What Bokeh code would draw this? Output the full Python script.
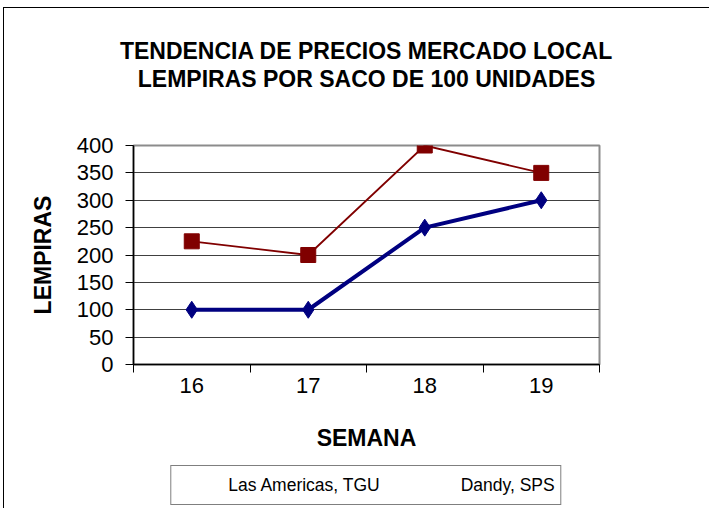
from bokeh.plotting import figure
from bokeh.layouts import column
from bokeh.models import Range1d, FixedTicker, Legend, LegendItem, Title
from bokeh.embed import file_html
from bokeh.resources import INLINE

weeks = ["16", "17", "18", "19"]
las_americas = [100, 100, 250, 300]
dandy = [225, 200, 400, 350]
y_ticks = [0, 50, 100, 150, 200, 250, 300, 350, 400]
title_lines = ["TENDENCIA DE PRECIOS MERCADO LOCAL", "LEMPIRAS POR SACO DE 100 UNIDADES"]
series_names = ["Las Americas, TGU", "Dandy, SPS"]

FONT = "Liberation Sans"
NAVY = "#000080"
MAROON = "#800000"

# category slots: centre of slot i is i + 0.5, slot edges are integers
x_pos = [i + 0.5 for i in range(len(weeks))]
x_edges = list(range(len(weeks) + 1))

p = figure(x_range=Range1d(0, len(weeks)), y_range=Range1d(0, 400),
           frame_width=466, frame_height=219, output_backend="svg", toolbar_location=None,
           title=None,
           min_border_left=129, min_border_right=110, min_border_top=137, min_border_bottom=98)

p.background_fill_color = "white"
p.border_fill_color = "white"
p.outline_line_color = "#8c8c8c"
p.outline_line_width = 2

# y axis
ya = p.yaxis[0]
ya.ticker = FixedTicker(ticks=y_ticks, minor_ticks=[])
ya.major_tick_in = 0
ya.major_tick_out = 8
ya.minor_tick_out = 0
ya.minor_tick_in = 0
ya.axis_line_color = "black"
ya.axis_line_width = 1.5
ya.major_tick_line_color = "black"
ya.major_label_text_font = FONT
ya.major_label_text_font_size = "22px"
ya.major_label_text_color = "black"
ya.major_label_standoff = 12
ya.axis_label = "LEMPIRAS"
ya.axis_label_text_font = FONT
ya.axis_label_text_font_size = "23px"
ya.axis_label_text_font_style = "bold"
ya.axis_label_text_color = "black"
ya.axis_label_standoff = 18

# x axis: labels at slot centres, tick marks at slot edges
xa = p.xaxis[0]
xa.ticker = FixedTicker(ticks=x_pos, minor_ticks=x_edges)
xa.major_label_overrides = {x: w for x, w in zip(x_pos, weeks)}
xa.major_tick_in = 0
xa.major_tick_out = 0
xa.minor_tick_in = 0
xa.minor_tick_out = 8
xa.minor_tick_line_color = "black"
xa.minor_tick_line_width = 1
xa.axis_line_color = "black"
xa.axis_line_width = 1.5
xa.major_label_text_font = FONT
xa.major_label_text_font_size = "22px"
xa.major_label_text_color = "black"
xa.major_label_standoff = 5
xa.axis_label = "SEMANA"
xa.axis_label_text_font = FONT
xa.axis_label_text_font_size = "23px"
xa.axis_label_text_font_style = "bold"
xa.axis_label_text_color = "black"
xa.axis_label_standoff = 29

p.ygrid.ticker = FixedTicker(ticks=y_ticks, minor_ticks=[])
p.ygrid.grid_line_color = "#404040"
p.ygrid.grid_line_width = 1
p.xgrid.visible = False

# series
p.line(x_pos, las_americas, line_color=NAVY, line_width=4)
p.scatter(x_pos, las_americas, marker="diamond", size=17, fill_color=NAVY, line_color=NAVY)
p.line(x_pos, dandy, line_color=MAROON, line_width=1.8)
p.scatter(x_pos, dandy, marker="square", size=15, fill_color=MAROON, line_color=MAROON)

# titles: the first one added sits nearest the plot area (a blank spacer)
p.add_layout(Title(text=" ", text_font=FONT, text_font_size="10px", standoff=41), "above")
p.add_layout(Title(text=title_lines[1], align="center", text_font=FONT, text_font_size="23px",
                   text_font_style="bold", text_color="black", standoff=0), "above")
p.add_layout(Title(text=title_lines[0], align="center", text_font=FONT, text_font_size="23px",
                   text_font_style="bold", text_color="black", standoff=0), "above")

# legend strip below the chart (same horizontal geometry as the plot area)
leg = figure(x_range=Range1d(0, 1), y_range=Range1d(0, 1),
             frame_width=466, frame_height=46, output_backend="svg", toolbar_location=None,
             title=None, x_axis_location=None, y_axis_location=None,
             min_border_left=129, min_border_right=110, min_border_top=0, min_border_bottom=0)
leg.outline_line_color = None
leg.background_fill_color = "white"
leg.border_fill_color = "white"
for g in list(leg.xgrid) + list(leg.ygrid):
    g.visible = False

k1 = leg.line([], [], line_color=NAVY, line_width=4)
m1 = leg.scatter([], [], marker="diamond", size=17, fill_color=NAVY, line_color=NAVY)
k2 = leg.line([], [], line_color=MAROON, line_width=1.8)
m2 = leg.scatter([], [], marker="square", size=15, fill_color=MAROON, line_color=MAROON)

legend = Legend(items=[LegendItem(label=series_names[0], renderers=[k1, m1]),
                       LegendItem(label=series_names[1], renderers=[k2, m2])],
                orientation="horizontal", location="center",
                border_line_color="black", border_line_width=1,
                background_fill_color="white", background_fill_alpha=1,
                label_text_font=FONT, label_text_font_size="17.5px", label_text_color="black",
                glyph_width=47, glyph_height=26, spacing=30, padding=6, margin=0,
                label_standoff=4)
leg.add_layout(legend, "center")

layout = column(p, leg, spacing=0,
                styles={"border-left": "1px solid #000", "border-top": "1px solid #000",
                        "margin-left": "3px", "margin-top": "7px"})

open("out.html", "w").write(file_html(layout, INLINE))
